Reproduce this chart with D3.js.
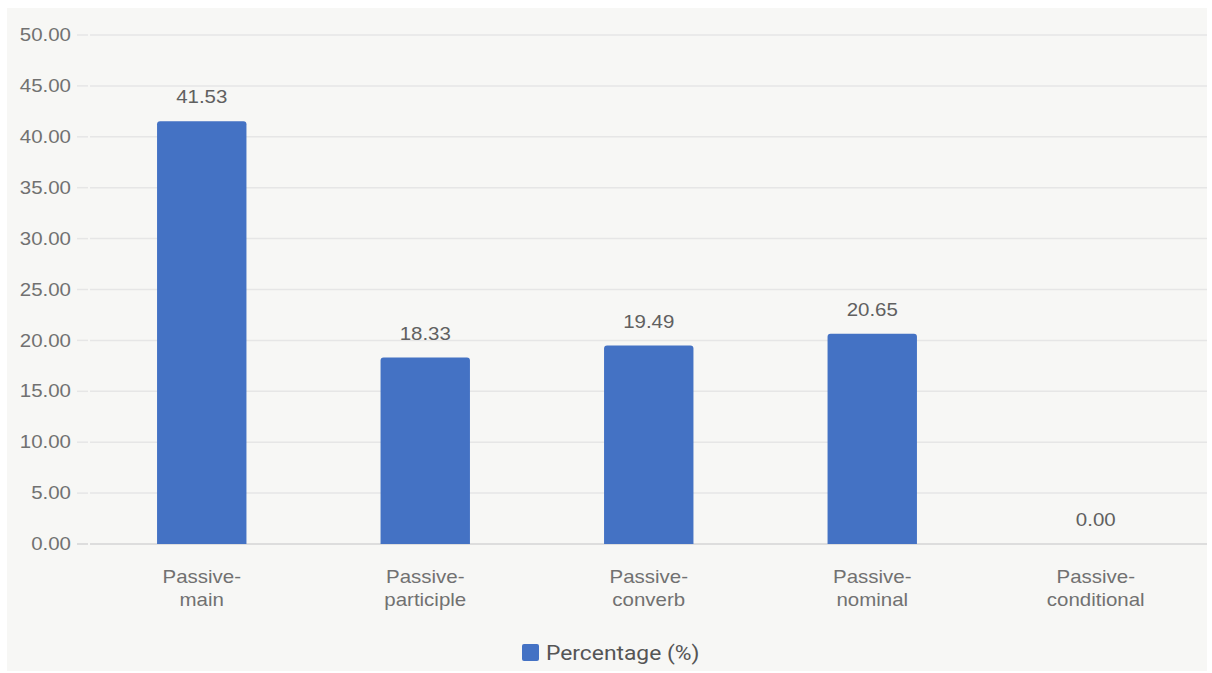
<!DOCTYPE html>
<html>
<head>
<meta charset="utf-8">
<script src="https://cdn.jsdelivr.net/npm/d3@7"></script>
<style>
  body { margin: 0; background: #fff; }
  svg { display: block; }
</style>
</head>
<body>
<div id="chart"></div>
<script>
var categories = [["Passive-", "main"], ["Passive-", "participle"], ["Passive-", "converb"], ["Passive-", "nominal"], ["Passive-", "conditional"]];
var values = [41.53, 18.33, 19.49, 20.65, 0.00];
var yTicks = [0, 5, 10, 15, 20, 25, 30, 35, 40, 45, 50];
var seriesName = "Percentage (%)";

var w = 1212, h = 673;
var plotLeft = 90, plotRight = 1207.5, plotTop = 35, plotBottom = 544;
var sx = 1.17; // texts in the reference are a little wide

var svg = d3.select("#chart").append("svg")
    .attr("width", w)
    .attr("height", h);

// panel background
svg.append("rect")
    .attr("x", 7).attr("y", 8)
    .attr("width", 1200).attr("height", 663)
    .style("fill", "#f7f7f5");

var x = d3.scaleBand()
    .domain(d3.range(categories.length))
    .range([plotLeft, plotRight]);

var y = d3.scaleLinear()
    .domain([0, 50])
    .range([plotBottom, plotTop]);

function label(parent, px, py, anchor, str, size, color, family) {
    return parent.append("g")
        .attr("transform", "translate(" + px + "," + py + ") scale(" + sx + ",1)")
        .append("text")
        .attr("dy", "0.35em")
        .attr("text-anchor", anchor)
        .style("font-family", family || "'Liberation Sans', Arial, sans-serif")
        .style("font-size", size + "px")
        .style("fill", color)
        .text(str);
}

// grid + y labels
var grid = svg.append("g");
yTicks.forEach(function(t) {
    var col = t === 0 ? "#d4d4d4" : "#e6e6e6";
    grid.append("line")
        .attr("x1", 77).attr("x2", 88)
        .attr("y1", y(t)).attr("y2", y(t))
        .style("stroke", col)
        .style("stroke-width", 1.5);
    grid.append("line")
        .attr("x1", plotLeft).attr("x2", 1207)
        .attr("y1", y(t)).attr("y2", y(t))
        .style("stroke", col)
        .style("stroke-width", 1.5);
    label(grid, 71, y(t), "end", t.toFixed(2), 17.5, "#717171");
});

var barW = x.bandwidth() * 0.4;
var r = 3;

function barPath(cx, v) {
    var x0 = cx - barW / 2, x1 = cx + barW / 2;
    var y0 = y(v), yb = y(0);
    if (yb - y0 < r) return "";
    return "M" + x0 + "," + yb +
        "V" + (y0 + r) +
        "Q" + x0 + "," + y0 + " " + (x0 + r) + "," + y0 +
        "H" + (x1 - r) +
        "Q" + x1 + "," + y0 + " " + x1 + "," + (y0 + r) +
        "V" + yb + "Z";
}

var bars = svg.append("g");
bars.selectAll("path")
    .data(values)
    .enter().append("path")
    .attr("d", function(d, i) {
        return barPath(x(i) + x.bandwidth() / 2, d);
    })
    .style("fill", "#4472c4");

// value labels
values.forEach(function(d, i) {
    label(bars, x(i) + x.bandwidth() / 2, y(d) - 24, "middle", d.toFixed(2), 17.5, "#606060");
});

// x labels
var xl = svg.append("g");
categories.forEach(function(c, i) {
    c.forEach(function(line, j) {
        label(xl, x(i) + x.bandwidth() / 2, 577 + j * 23, "middle", line, 17.5, "#717171");
    });
});

// legend
var lg = svg.append("g");
lg.append("rect")
    .attr("x", 522).attr("y", 644)
    .attr("width", 17).attr("height", 17)
    .attr("rx", 2)
    .style("fill", "#4472c4");
label(lg, 546, 653, "start", seriesName, 19.5, "#555", "Roboto, 'Open Sans', sans-serif");
</script>
</body>
</html>
